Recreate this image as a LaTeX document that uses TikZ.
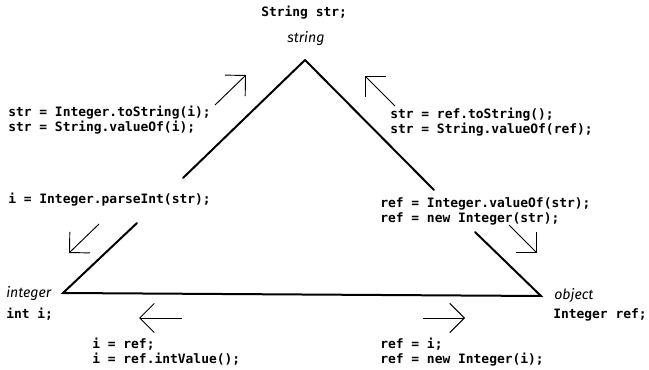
\documentclass[tikz,border=0pt]{standalone}
\usepackage{fontspec}
\setmonofont{DejaVu Sans Mono}
\newfontfamily\lblfont{Fira Sans}
\usetikzlibrary{arrows.meta}
\tikzset{
  code/.style={font=\ttfamily\bfseries\fontsize{9.7}{11.25}\selectfont, inner sep=0pt, anchor=base west, align=left},
  vlabel/.style={font=\lblfont\itshape\fontsize{10.6}{12}\selectfont, inner sep=0pt, anchor=base west},
  edge/.style={line width=1.5pt, line cap=round, line join=miter},
  conv/.style={line width=0.7pt, -{Straight Barb[length=11pt,width=22pt,line width=0.7pt]}},
}
\begin{document}
\begin{tikzpicture}[x=0.75pt,y=-0.75pt]
\useasboundingbox (0,0) rectangle (649,370);
% vertices
\coordinate (apex) at (305,60);
\coordinate (intv) at (63,293);
\coordinate (objv) at (541,296);
\coordinate (lgapA) at (183,178);
\coordinate (lgapB) at (137,223);
\coordinate (rgapA) at (434,190);
\coordinate (rgapB) at (475,232);
% triangle
\draw[edge] (apex) -- (lgapA);
\draw[edge] (lgapB) -- (intv) -- (objv) -- (rgapB);
\draw[edge] (rgapA) -- (apex);
% arrow ends
\coordinate (a1s) at (215,105); \coordinate (a1e) at (246,75);
\coordinate (a2s) at (395,106); \coordinate (a2e) at (365,76);
\coordinate (a3s) at (99,224);  \coordinate (a3e) at (69,253);
\coordinate (a4s) at (509,225); \coordinate (a4e) at (537,253);
\coordinate (a5s) at (182,318); \coordinate (a5e) at (139,318);
\coordinate (a6s) at (423,318); \coordinate (a6e) at (465,318);
\draw[conv] (a1s) -- (a1e);
\draw[conv] (a2s) -- (a2e);
\draw[conv] (a3s) -- (a3e);
\draw[conv] (a4s) -- (a4e);
\draw[conv] (a5s) -- (a5e);
\draw[conv] (a6s) -- (a6e);
% labels (multi-line nodes: base = last line)
\node[code] (strdecl) at (261,17) {String str;};
\node[vlabel] (strlbl) at (287,43) {string};
\node[vlabel] (intlbl) at (6,297) {integer};
\node[vlabel] (objlbl) at (554,299) {object};
\node[code] (intdecl) at (6,318) {int i;};
\node[code] (objdecl) at (553,318) {Integer ref;};
\node[code] (i2s) at (8,132) {str = Integer.toString(i);\\str = String.valueOf(i);};
\node[code] (o2s) at (390,134) {str = ref.toString();\\str = String.valueOf(ref);};
\node[code] (s2i) at (8,204) {i = Integer.parseInt(str);};
\node[code] (s2o) at (380,223) {ref = Integer.valueOf(str);\\ref = new Integer(str);};
\node[code] (o2i) at (92,363) {i = ref;\\i = ref.intValue();};
\node[code] (i2o) at (380,363) {ref = i;\\ref = new Integer(i);};
\end{tikzpicture}
\end{document}
